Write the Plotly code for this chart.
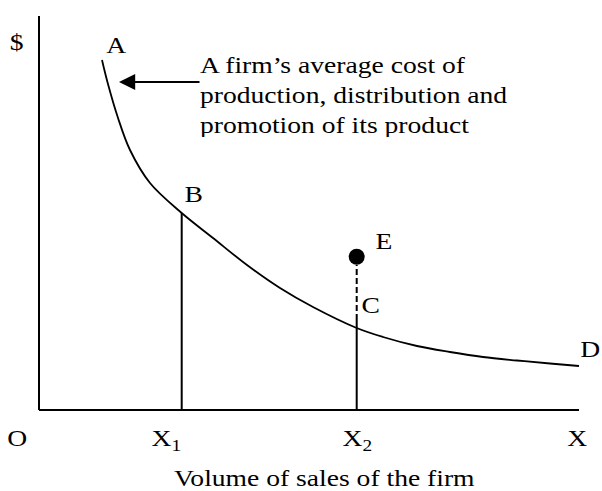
import plotly.graph_objects as go

# ---- data (x: volume of sales, y: $) ----
curve_x = [1.1667, 1.2722, 1.4574, 1.6852, 2.0556, 2.6426, 3.2222, 3.8519, 4.4630,
           5.0741, 5.8833, 6.3704, 7.0000, 7.6111, 8.2222, 8.8519, 9.4630, 10.0]
curve_y = [8.8832, 8.2995, 7.4365, 6.5990, 5.7614, 5.0000, 4.3655, 3.6802, 3.0964,
           2.6142, 2.0812, 1.8528, 1.6244, 1.4721, 1.3452, 1.2563, 1.1802, 1.1168]

axis_x_max = 10.0
axis_y_max = 10.0

x1_pos = 2.6426
x1_top = 5.0000
x2_pos = 5.8833
x2_solid_top = 2.284
x2_dash_top = 3.68
point_e = (5.8833, 3.89)

arrow_tail = (3.0, 8.325)
arrow_tip = (1.481, 8.325)

label_texts = ["$", "A", "B", "C", "D", "E", "O", "X<sub>1</sub>", "X<sub>2</sub>", "X"]
label_x = [-0.407, 1.426, 2.870, 6.130, 10.222, 6.389, -0.389, 2.352, 5.907, 9.963]
label_y = [9.315, 9.264, 5.457, 2.640, 1.548, 4.289, -0.711, -0.75, -0.75, -0.711]

note_text = ("A firm\u2019s average cost of<br>production, distribution and<br>"
             "promotion of its product")
note_pos = (2.98, 8.985)
note_clip_y = (6.929, 6.560)   # lower edge of the note's frame
note_clip_x = (2.9, 8.6)
axis_title = "Volume of sales of the firm"
axis_title_pos = (5.296, -1.73)

FONT = "Liberation Serif, Times New Roman, serif"
FS = 23

fig = go.Figure()
line = dict(color="black", width=2)
font = dict(family=FONT, size=FS, color="black")
# axes
fig.add_trace(go.Scatter(x=[0, 0], y=[axis_y_max, 0], mode="lines", line=line))
fig.add_trace(go.Scatter(x=[0, axis_x_max], y=[0, 0], mode="lines", line=line))
# average cost curve
fig.add_trace(go.Scatter(x=curve_x, y=curve_y, mode="lines",
                         line=dict(color="black", width=1.8, shape="spline", smoothing=1.0)))
# verticals
fig.add_trace(go.Scatter(x=[x1_pos, x1_pos], y=[0, x1_top], mode="lines", line=line))
fig.add_trace(go.Scatter(x=[x2_pos, x2_pos], y=[0, x2_solid_top], mode="lines", line=line))
fig.add_trace(go.Scatter(x=[x2_pos, x2_pos], y=[x2_solid_top, x2_dash_top], mode="lines",
                         line=dict(color="black", width=2, dash="6px,3px")))
# point E
fig.add_trace(go.Scatter(x=[point_e[0]], y=[point_e[1]], mode="markers",
                         marker=dict(color="black", size=16, line=dict(width=0))))
# note text (as a trace so that the frame edge can clip it)
fig.add_trace(go.Scatter(x=[note_pos[0]], y=[note_pos[1]], mode="text", text=[note_text],
                         textposition="bottom right", textfont=font))

fig.add_shape(type="rect", xref="x", yref="y", x0=note_clip_x[0], x1=note_clip_x[1],
              y0=note_clip_y[0], y1=note_clip_y[1], fillcolor="white",
              line=dict(width=0), layer="above")

ann = []
# arrow
ann.append(dict(x=arrow_tip[0], y=arrow_tip[1], ax=arrow_tail[0], ay=arrow_tail[1],
                xref="x", yref="y", axref="x", ayref="y", text="", showarrow=True,
                arrowhead=2, arrowsize=1.8, arrowwidth=1.8, arrowcolor="black"))
for t, lx, ly in zip(label_texts, label_x, label_y):
    ann.append(dict(x=lx, y=ly, xref="x", yref="y", text=t, showarrow=False,
                    xanchor="center", yanchor="middle", font=font))
ann.append(dict(x=axis_title_pos[0], y=axis_title_pos[1], xref="x", yref="y",
                text=axis_title, showarrow=False, xanchor="center", yanchor="middle",
                font=font))

fig.update_layout(
    width=602, height=491, margin=dict(l=0, r=0, t=0, b=0),
    paper_bgcolor="white", plot_bgcolor="white", showlegend=False,
    xaxis=dict(range=[-39 / 54, 563 / 54], visible=False),
    yaxis=dict(range=[-81 / 39.4, 410 / 39.4], visible=False),
    annotations=ann,
)

css = ("html,body{margin:0;padding:0;overflow:hidden;}"
       "text.annotation-text{transform-box:fill-box;transform-origin:center;"
       "transform:scaleX(1.2);}"
       "g.textpoint text{transform-box:fill-box;transform-origin:left center;"
       "transform:scaleX(1.2);}")
post = ("var st=document.createElement('style');st.textContent=\"" + css +
        "\";document.head.appendChild(st);")
fig.write_html("out.html", post_script=post, config={"displayModeBar": False})
